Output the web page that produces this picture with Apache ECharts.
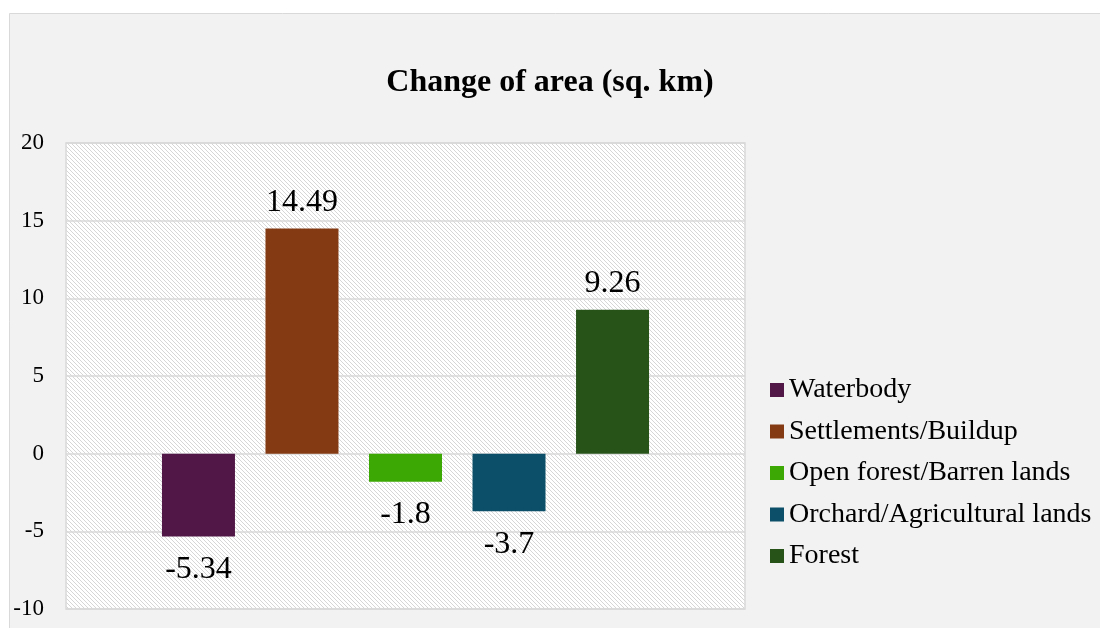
<!DOCTYPE html>
<html>
<head>
<meta charset="utf-8">
<style>
  html, body { margin: 0; padding: 0; background: #fff; }
  #main { width: 1100px; height: 628px; }
</style>
<script src="https://cdn.jsdelivr.net/npm/echarts@6/dist/echarts.min.js"></script>
</head>
<body>
<div id="main"></div>
<script>
const seriesNames = ['Waterbody', 'Settlements/Buildup', 'Open forest/Barren lands', 'Orchard/Agricultural lands', 'Forest']
const values = [-5.34, 14.49, -1.8, -3.7, 9.26]
const colors = ['#511847', '#843a12', '#3ca804', '#0b4f68', '#275318']
const categories = ['Change']

const font = "'Liberation Serif', 'Times New Roman', serif"

// hatch pattern for the plot area
function makeHatch() {
  const c = document.createElement('canvas')
  c.width = 8
  c.height = 8
  const ctx = c.getContext('2d')
  ctx.fillStyle = '#ffffff'
  ctx.fillRect(0, 0, 8, 8)
  ctx.strokeStyle = '#d6d6d6'
  ctx.lineWidth = 1
  for (let x = -8; x <= 8; x += 4) {
    ctx.beginPath()
    ctx.moveTo(x, 0)
    ctx.lineTo(x + 8, 8)
    ctx.stroke()
  }
  return c
}

const chart = echarts.init(document.getElementById('main'))

const series = seriesNames.map(function (name, i) {
  return {
    name: name,
    type: 'bar',
    data: [values[i]],
    barWidth: 73,
    barGap: '41.8%',
    itemStyle: { color: colors[i] },
    label: {
      show: true,
      position: values[i] < 0 ? 'bottom' : 'top',
      distance: values[i] < 0 ? 17 : 10,
      color: '#000',
      fontFamily: font,
      fontSize: 32
    }
  }
})

const option = {
  animation: false,
  graphic: [{
    type: 'rect',
    z: -10,
    shape: { x: 9.5, y: 13.5, width: 1100, height: 620 },
    style: { fill: '#f2f2f2', stroke: '#d9d9d9', lineWidth: 1 }
  }],
  title: {
    text: 'Change of area (sq. km)',
    left: 545,
    top: 62,
    textAlign: 'center',
    textStyle: {
      fontFamily: font,
      fontSize: 32,
      fontWeight: 'bold',
      color: '#000'
    }
  },
  legend: {
    orient: 'vertical',
    left: 770,
    top: 376,
    padding: 0,
    itemWidth: 14,
    itemHeight: 14,
    itemGap: 13.5,
    icon: 'rect',
    data: seriesNames,
    textStyle: {
      fontFamily: font,
      fontSize: 28,
      lineHeight: 28,
      color: '#000'
    }
  },
  grid: {
    left: 66,
    top: 143,
    width: 679,
    height: 466,
    show: true,
    backgroundColor: { image: makeHatch(), repeat: 'repeat' },
    borderColor: '#d9d9d9',
    borderWidth: 1.5
  },
  xAxis: {
    type: 'category',
    data: categories,
    axisLine: { show: false },
    axisTick: { show: false },
    axisLabel: { show: false }
  },
  yAxis: {
    type: 'value',
    min: -10,
    max: 20,
    interval: 5,
    axisLine: { show: false },
    axisTick: { show: false },
    axisLabel: {
      color: '#000',
      fontFamily: font,
      fontSize: 23,
      margin: 22
    },
    splitLine: {
      lineStyle: { color: '#d9d9d9', width: 1.5 }
    }
  },
  series: series
}

chart.setOption(option)
</script>
</body>
</html>
